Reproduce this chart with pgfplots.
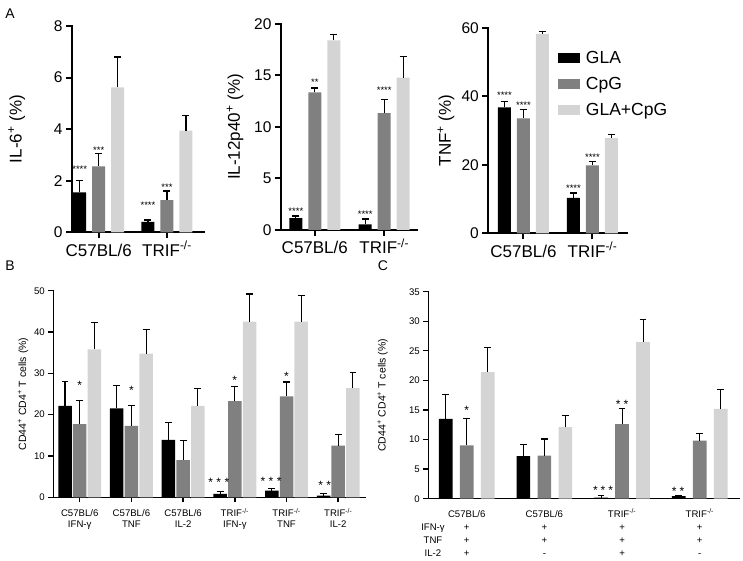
\documentclass[border=0pt]{standalone}
\usepackage{fontspec}
\setmainfont{Liberation Sans}
\usepackage{pgfplots}
\pgfplotsset{compat=1.18}
\definecolor{cgla}{HTML}{000000}
\definecolor{ccpg}{HTML}{808080}
\definecolor{cboth}{HTML}{D4D4D4}
\newcommand{\ST}[1]{\rule{0pt}{#1}}
\tikzset{
  starA/.style={font=\fontsize{9.5}{10}\selectfont, inner sep=0pt, yshift=-2pt},
  starB/.style={font=\fontsize{12}{12}\selectfont, inner sep=0pt, yshift=-2.6pt},
}
\pgfplotsset{
  ebA/.style={error bars/.cd, y dir=plus, y explicit,
    error bar style={draw=black, line width=1.3pt},
    error mark options={rotate=90, draw=black, line width=1.3pt, mark size=3.5pt}},
  ebB/.style={error bars/.cd, y dir=plus, y explicit,
    error bar style={draw=black, line width=1.1pt},
    error mark options={rotate=90, draw=black, line width=1.1pt, mark size=3.4pt}},
  common/.style={scale only axis, axis lines=left, tick align=outside,
    enlargelimits=false, clip=false, ymin=0, anchor=south west,
    /pgf/number format/assume math mode=true},
  panelA/.style={common, ybar=6pt, bar width=13pt,
    axis line style={-, line width=2pt, line cap=rect},
    tick style={black, line width=2pt}, major tick length=6pt,
    xtick={0,1},
    xticklabels={\ST{17.7pt}C57BL/6, \ST{17.7pt}TRIF\textsuperscript{-/-}},
    xticklabel style={anchor=north, inner sep=0pt, font=\fontsize{17}{19}\selectfont},
    yticklabel style={font=\fontsize{15.5}{17}\selectfont},
    ylabel style={anchor=center, font=\fontsize{17}{20}\selectfont}},
  panelBC/.style={common,
    axis line style={-, line width=1.5pt, line cap=rect},
    tick style={black, line width=1.5pt}, major tick length=5pt,
    xticklabel style={anchor=north, inner sep=0pt, align=center},
    yticklabel style={font=\fontsize{9.6}{11}\selectfont},
    ylabel style={anchor=center, font=\fontsize{10.5}{12}\selectfont},
    ylabel={CD44\textsuperscript{+} CD4\textsuperscript{+} T cells (\%)}},
}
\begin{document}
\begin{tikzpicture}
\useasboundingbox (0,0) rectangle (743pt,561pt);
\node[font=\fontsize{14}{16}\selectfont] at (10pt,547.7pt) {A};
\node[font=\fontsize{14}{16}\selectfont] at (10pt,295pt) {B};
\node[font=\fontsize{14}{16}\selectfont] at (383pt,295pt) {C};

% ---------- A1 IL-6
\begin{axis}[panelA, at={(72pt,328.7pt)}, width=132pt, height=206.3pt,
  xmin=-0.391, xmax=1.542, ymax=8, ytick={0,2,4,6,8},
  ylabel={IL-6\textsuperscript{+} (\%)},
  ylabel style={at={(axis description cs:-0.419,0.5)}}]
\addplot[fill=cgla, draw=none, ebA] table[x=x,y=y,y error=e]{
x y e
0 1.55 0.45
1 0.40 0.08
};
\addplot[fill=ccpg, draw=none, ebA] table[x=x,y=y,y error=e]{
x y e
0 2.56 0.50
1 1.25 0.35
};
\addplot[fill=cboth, draw=none, ebA] table[x=x,y=y,y error=e]{
x y e
0 5.62 1.18
1 3.94 0.59
};
\node[starA, xshift=-19pt] at (axis cs:0,2.54) {****};
\node[starA] at (axis cs:0,3.27) {***};
\node[starA, xshift=-19pt] at (axis cs:1,1.13) {****};
\node[starA] at (axis cs:1,1.84) {***};
\end{axis}

% ---------- A2 IL-12p40
\begin{axis}[panelA, at={(281pt,331pt)}, width=135.7pt, height=206pt,
  xmin=-0.487, xmax=1.468, ymax=20, ytick={0,5,10,15,20},
  ylabel={IL-12p40\textsuperscript{+} (\%)},
  ylabel style={at={(axis description cs:-0.339,0.5)}}]
\addplot[fill=cgla, draw=none, ebA] table[x=x,y=y,y error=e]{
x y e
0 1.15 0.20
1 0.55 0.52
};
\addplot[fill=ccpg, draw=none, ebA] table[x=x,y=y,y error=e]{
x y e
0 13.35 0.45
1 11.35 1.35
};
\addplot[fill=cboth, draw=none, ebA] table[x=x,y=y,y error=e]{
x y e
0 18.40 0.60
1 14.80 2.05
};
\node[starA, xshift=-19pt] at (axis cs:0,2.04) {****};
\node[starA] at (axis cs:0,14.56) {**};
\node[starA, xshift=-19pt] at (axis cs:1,1.72) {****};
\node[starA] at (axis cs:1,13.8) {****};
\end{axis}

% ---------- A3 TNF
\begin{axis}[panelA, at={(488.3pt,327.7pt)}, width=138.4pt, height=205.6pt,
  xmin=-0.51, xmax=1.496, ymax=60, ytick={0,20,40,60},
  ylabel={TNF\textsuperscript{+} (\%)},
  ylabel style={at={(axis description cs:-0.306,0.5)}},
  legend style={draw=none, fill=none, at={(0.48,0.905)}, anchor=north west,
    font=\fontsize{17.5}{20}\selectfont, row sep=8pt, column sep=4pt,
    nodes={inner sep=2pt}},
  legend cell align=left]
\addplot[fill=cgla, draw=none,
  legend image code/.code={\fill[cgla] (0pt,-5pt) rectangle (22pt,5pt);}, ebA]
  table[x=x,y=y,y error=e]{
x y e
0 36.75 1.65
1 10.30 1.50
};
\addplot[fill=ccpg, draw=none,
  legend image code/.code={\fill[ccpg] (0pt,-5pt) rectangle (22pt,5pt);}, ebA]
  table[x=x,y=y,y error=e]{
x y e
0 33.50 2.70
1 19.80 1.05
};
\addplot[fill=cboth, draw=none,
  legend image code/.code={\fill[cboth] (0pt,-5pt) rectangle (22pt,5pt);}, ebA]
  table[x=x,y=y,y error=e]{
x y e
0 58.20 0.70
1 27.80 1.05
};
\legend{GLA, CpG, GLA+CpG}
\node[starA, xshift=-19pt] at (axis cs:0,41.0) {****};
\node[starA] at (axis cs:0,37.9) {****};
\node[starA, xshift=-19pt] at (axis cs:1,13.8) {****};
\node[starA] at (axis cs:1,22.8) {****};
\end{axis}

% ---------- B
\begin{axis}[panelBC, ybar=1.2pt, bar width=13.5pt,
  at={(53.3pt,63.7pt)}, width=311.7pt, height=206.6pt,
  xmin=-0.511, xmax=5.518, ymax=50, ytick={0,10,20,30,40,50},
  xtick={0,1,2,3,4,5},
  xticklabels={{\ST{14.4pt}C57BL/6\\IFN-γ}, {\ST{14.4pt}C57BL/6\\TNF}, {\ST{14.4pt}C57BL/6\\IL-2},
    {\ST{14.4pt}TRIF\textsuperscript{-/-}\\IFN-γ}, {\ST{14.4pt}TRIF\textsuperscript{-/-}\\TNF}, {\ST{14.4pt}TRIF\textsuperscript{-/-}\\IL-2}},
  xticklabel style={font=\fontsize{9.6}{10.6}\selectfont},
  ylabel style={at={(axis description cs:-0.097,0.5)}}]
\addplot[fill=cgla, draw=none, ebB] table[x=x,y=y,y error=e]{
x y e
0 22.1 5.9
1 21.5 5.5
2 13.9 4.2
3 0.8 0.7
4 1.6 0.6
5 0.4 0.6
};
\addplot[fill=ccpg, draw=none, ebB] table[x=x,y=y,y error=e]{
x y e
0 17.7 5.7
1 17.3 5.0
2 9.0 4.7
3 23.3 3.5
4 24.4 3.5
5 12.5 2.7
};
\addplot[fill=cboth, draw=none, ebB] table[x=x,y=y,y error=e]{
x y e
0 35.8 6.5
1 34.8 5.8
2 22.1 4.3
3 42.5 6.7
4 42.5 6.3
5 26.4 3.8
};
\node[starB] at (axis cs:0,27.6) {*};
\node[starB] at (axis cs:1,26.4) {*};
\node[starB] at (axis cs:3,29.0) {*};
\node[starB] at (axis cs:4,30.0) {*};
\node[starB, xshift=-16pt] at (axis cs:3,4.2) {*\hspace{3.5pt}*\hspace{3.5pt}*};
\node[starB, xshift=-15.5pt] at (axis cs:4,4.4) {*\hspace{3.5pt}*\hspace{3.5pt}*};
\node[starB, xshift=-13.5pt] at (axis cs:5,3.5) {*\hspace{3.5pt}*};
\end{axis}

% ---------- C
\begin{axis}[panelBC, ybar=7.3pt, bar width=13.7pt,
  at={(428.3pt,62.3pt)}, width=310.7pt, height=207pt,
  xmin=-0.494, xmax=3.505, ymax=35, ytick={0,5,10,15,20,25,30,35},
  xtick={0,1,2,3}, xtick style={draw=none},
  axis line style={line width=1.3pt}, ytick style={line width=1.3pt},
  xticklabels={{\ST{13.6pt}C57BL/6\\+\\+\\+}, {\ST{13.6pt}C57BL/6\\+\\+\\-},
    {\ST{13.6pt}TRIF\textsuperscript{-/-}\\+\\+\\+}, {\ST{13.6pt}TRIF\textsuperscript{-/-}\\+\\+\\-}},
  xticklabel style={font=\fontsize{9.6}{13}\selectfont},
  ylabel style={at={(axis description cs:-0.147,0.5)}}]
\addplot[fill=cgla, draw=none, ebB] table[x=x,y=y,y error=e]{
x y e
0 13.5 4.1
1 7.2 1.9
2 0.2 0.35
3 0.45 0.1
};
\addplot[fill=ccpg, draw=none, ebB] table[x=x,y=y,y error=e]{
x y e
0 9.0 4.6
1 7.3 2.8
2 12.6 2.7
3 9.8 1.2
};
\addplot[fill=cboth, draw=none, ebB] table[x=x,y=y,y error=e]{
x y e
0 21.4 4.2
1 12.1 1.9
2 26.5 3.8
3 15.2 3.3
};
\node[starB] at (axis cs:0,15.3) {*};
\node[starB, xshift=-19pt] at (axis cs:2,1.9) {*\hspace{3pt}*\hspace{3pt}*};
\node[starB] at (axis cs:2,16.4) {*\hspace{3pt}*};
\node[starB, xshift=-21.7pt] at (axis cs:3,1.6) {*\hspace{3pt}*};
\end{axis}

\node[anchor=base, font=\fontsize{9.6}{11}\selectfont] at (433pt,30.7pt) {IFN-γ};
\node[anchor=base, font=\fontsize{9.6}{11}\selectfont] at (433pt,17.7pt) {TNF};
\node[anchor=base, font=\fontsize{9.6}{11}\selectfont] at (433pt,4.7pt) {IL-2};
\end{tikzpicture}
\end{document}
